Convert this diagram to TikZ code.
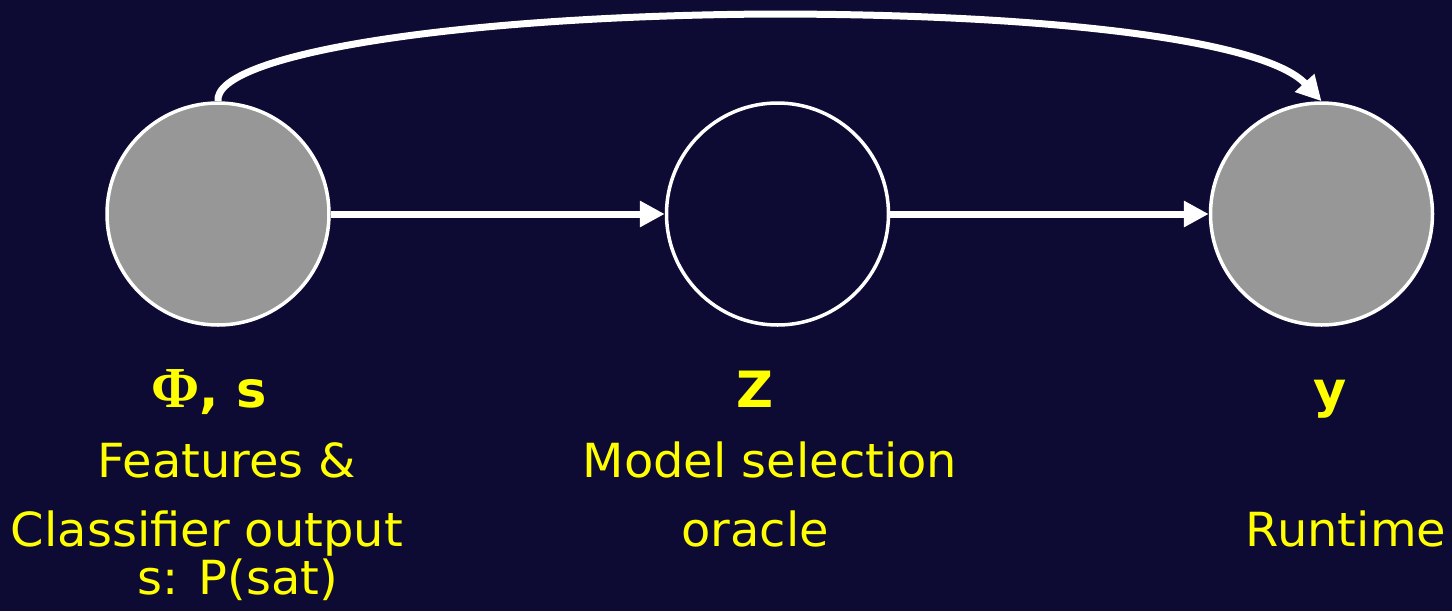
\documentclass[tikz,border=0pt]{standalone}
\usepackage{fontspec}
\setmainfont[FakeStretch=1.02]{DejaVu Sans}
\newfontfamily\phifont{Liberation Serif}
\usetikzlibrary{arrows.meta}
\definecolor{bg}{HTML}{0D0A33}
\definecolor{nodegray}{HTML}{979797}
\definecolor{lbl}{HTML}{FFFF00}
\begin{document}
\begin{tikzpicture}[x=1pt,y=-1pt,
  var/.style={circle,draw=white,line width=3.5pt,minimum size=222pt,inner sep=0pt},
  obs/.style={var,fill=nodegray},
  arr/.style={draw=white,line width=7pt,-{Triangle[length=25pt,width=25pt]}},
  txt/.style={text=lbl,font=\fontsize{47}{54}\selectfont,anchor=base,inner sep=0pt},
  ttl/.style={txt,font=\fontsize{50}{56}\selectfont\bfseries}]
\fill[bg] (0,0) rectangle (1452,611);
\useasboundingbox (0,0) rectangle (1452,611);
\node[obs] (a) at (218,214) {};
\node[var] (b) at (777.5,214) {};
\node[obs] (c) at (1321.5,214) {};
\draw[arr] (a) -- (b);
\draw[arr] (b) -- (c);
\coordinate (peak) at (770,14);
\draw[arr] (a.north) .. controls (213,55) and (450,16) .. (peak) .. controls (1050,14) and (1265,40) .. (c.north);
\node[ttl] (ta) at (209,407) {{\phifont\fontsize{58}{64}\selectfont\bfseries Φ}, s};
\node[txt] (la1) at (227,477) {Features \&};
\node[txt] (la2) at (207,546) {Classifier output};
\node[txt] (la3) at (238,594) {s: P(sat)};
\node[ttl] (tb) at (755,407) {Z};
\node[txt] (lb1) at (770,477) {Model selection};
\node[txt] (lb2) at (755,546) {oracle};
\node[ttl] (tc) at (1330,407) {y};
\node[txt] (lc1) at (1346,546) {Runtime};
\end{tikzpicture}
\end{document}
